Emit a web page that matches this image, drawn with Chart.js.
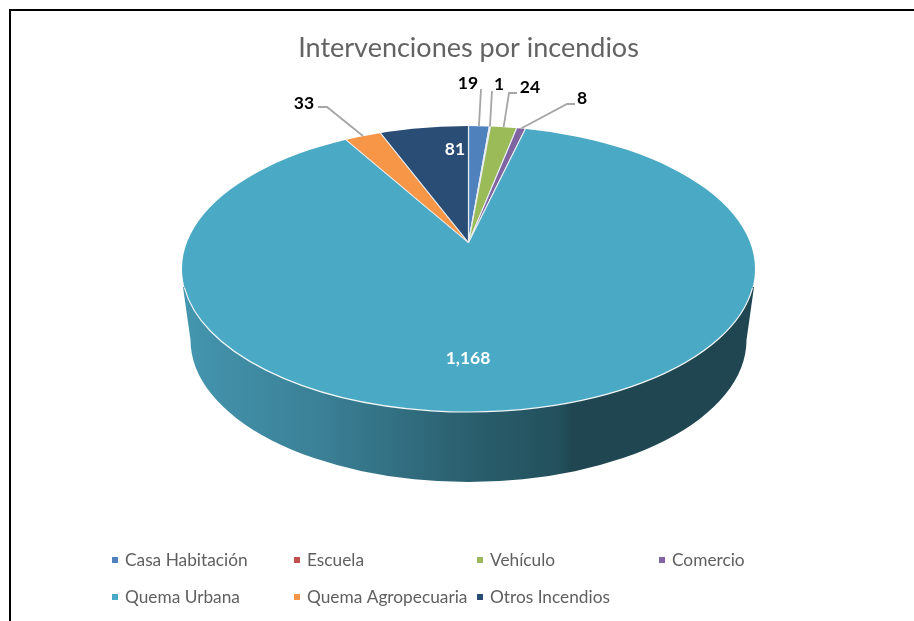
<!DOCTYPE html>
<html><head><meta charset="utf-8">
<style>
html,body{margin:0;padding:0;background:#fff;overflow:hidden;width:914px;height:621px}
#wrap{position:relative;width:914px;height:621px;overflow:hidden}
#frame{position:absolute;left:9px;top:9px;width:1000px;height:700px;border:2px solid #000;pointer-events:none}
canvas{position:absolute;left:0;top:0}
</style>
<script src="https://cdn.jsdelivr.net/npm/chart.js@4"></script>
</head><body>
<div id="wrap"><canvas id="c" width="914" height="621"></canvas><div id="frame"></div></div>
<script>
const chartTitle = 'Intervenciones por incendios';
const categories = ['Casa Habitación','Escuela','Vehículo','Comercio','Quema Urbana','Quema Agropecuaria','Otros Incendios'];
const values = [19,1,24,8,1168,33,81];
const sliceColors = ['#4f81bd','#c0504d','#9bbb59','#8064a2','#4aa9c4','#f79646','#2a4d76'];
const valueFormat = new Intl.NumberFormat('en-US');

const font = 'Lato, Carlito, "Open Sans", sans-serif';
// projection of the tilted disc
const TILT = 0.5;
const face = {cx:468.5, cy:269, rx:286.5, ry:143};
const low = {cx:468.5, cy:340, rx:278, ry:142};
// label placing per slice; inside labels have no leader
const labelPlace = {
  0:{x:468,y:83,leader:[[481,89]]},
  1:{x:499,y:84,leader:[[492,91]]},
  2:{x:530,y:87,leader:[[517,93],[509,93]]},
  3:{x:582,y:98,leader:[[575,104],[567,104]]},
  4:{x:468,y:358,inside:true},
  5:{x:304,y:103,leader:[[318,107],[327,107]]},
  6:{x:455,y:149,inside:true}
};
const legendCols = [112,294,477,659], legendRows = [560,597];
const legendOrder = [[0,1,2,3],[4,5,6]];

function rimPoint(arc){
  const mid = (arc.startAngle + arc.endAngle)/2 + Math.PI/2; // 0 = up
  const dx = Math.sin(mid), dy = -Math.cos(mid)*TILT;
  const ox = arc.x - face.cx, oy = arc.y - face.cy;
  const a = dx*dx/(face.rx*face.rx) + dy*dy/(face.ry*face.ry);
  const b = 2*(ox*dx/(face.rx*face.rx) + oy*dy/(face.ry*face.ry));
  const c = ox*ox/(face.rx*face.rx) + oy*oy/(face.ry*face.ry) - 1;
  const t = (-b + Math.sqrt(b*b-4*a*c))/(2*a);
  return [arc.x + dx*t, arc.y + dy*t];
}

const disc3d = {
  id:'disc3d',
  beforeDatasetsDraw(chart){
    const ctx = chart.ctx, arc = chart.getDatasetMeta(0).data[0];
    // side wall
    ctx.save();
    const g = ctx.createLinearGradient(face.cx-face.rx,0,face.cx+face.rx,0);
    g.addColorStop(0,'#4496af');
    g.addColorStop(0.25,'#3a7f95');
    g.addColorStop(0.5,'#2a5f6e');
    g.addColorStop(0.66,'#23505c');
    g.addColorStop(0.68,'#1f4651');
    g.addColorStop(1,'#1f4651');
    ctx.fillStyle = g;
    ctx.beginPath();
    ctx.moveTo(face.cx-face.rx+1,287);
    ctx.lineTo(low.cx-low.rx,low.cy);
    ctx.ellipse(low.cx,low.cy,low.rx,low.ry,0,Math.PI,0,true);
    ctx.lineTo(face.cx+face.rx-1,287);
    ctx.closePath();
    ctx.fill();
    ctx.restore();
    // top face
    ctx.save();
    ctx.beginPath();
    ctx.ellipse(face.cx,face.cy,face.rx,face.ry,0,0,Math.PI*2);
    ctx.clip();
    ctx.translate(arc.x,arc.y);
    ctx.scale(1,TILT);
    ctx.translate(-arc.x,-arc.y);
  },
  afterDatasetsDraw(chart){
    const ctx = chart.ctx, arcs = chart.getDatasetMeta(0).data;
    ctx.restore();
    // rim highlight on the front edge
    ctx.save();
    ctx.strokeStyle = '#f2f7f9';
    ctx.lineWidth = 1.2;
    ctx.beginPath();
    ctx.ellipse(face.cx,face.cy,face.rx,face.ry,0,0.13,Math.PI-0.13);
    ctx.stroke();
    // leaders and value labels
    ctx.textAlign='center'; ctx.textBaseline='middle';
    ctx.font = 'bold 17.5px '+font;
    arcs.forEach((arc,i)=>{
      const p = labelPlace[i];
      if(p.leader){
        const [ax,ay] = rimPoint(arc);
        ctx.strokeStyle='#a6a6a6'; ctx.lineWidth=1.8;
        ctx.beginPath();
        p.leader.forEach((q,k)=> k? ctx.lineTo(q[0],q[1]) : ctx.moveTo(q[0],q[1]));
        ctx.lineTo(ax,ay);
        ctx.stroke();
      }
      ctx.fillStyle = p.inside ? '#ffffff' : '#000000';
      ctx.fillText(valueFormat.format(values[i]),p.x,p.y);
    });
    // legend in fixed columns
    ctx.font = '17.3px '+font;
    ctx.textAlign='left';
    legendOrder.forEach((row,r)=>row.forEach((idx,c)=>{
      const x = legendCols[c], y = legendRows[r];
      ctx.fillStyle = sliceColors[idx];
      ctx.fillRect(x,y-3,6,6);
      ctx.fillStyle = '#5f5f5f';
      ctx.fillText(categories[idx],x+13,y+0.5);
    }));
    ctx.restore();
  }
};

new Chart(document.getElementById('c'),{
  type:'pie',
  data:{labels:categories,datasets:[{
    data:values,
    backgroundColor:sliceColors,
    borderColor:'#e8eef2',
    borderWidth:1.2,
    radius:345,
    clip:false
  }]},
  options:{
    responsive:false,
    animation:false,
    layout:{padding:{left:23,right:0,top:0,bottom:200}},
    plugins:{
      legend:{display:false},
      tooltip:{enabled:false},
      title:{display:true,text:chartTitle,color:'#636363',
        font:{family:font,size:27,weight:'normal'},
        padding:{top:32,bottom:0}}
    }
  },
  plugins:[disc3d]
});
</script>
</body></html>
